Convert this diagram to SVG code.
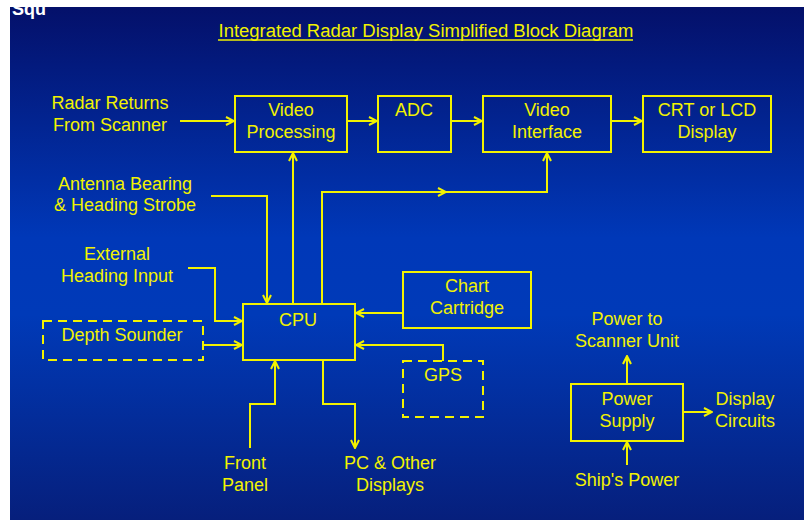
<svg xmlns="http://www.w3.org/2000/svg" width="804" height="520" viewBox="0 0 804 520">
<style>
.t{font-family:"Liberation Sans",Arial,sans-serif;font-size:18px;fill:#f2f200;text-anchor:middle}
.box{fill:none;stroke:#f2f200;stroke-width:2}
.dash{fill:none;stroke:#f2f200;stroke-width:2;stroke-dasharray:9,6}
.c{fill:none;stroke:#f2f200;stroke-width:2;marker-end:url(#ah)}
</style>
<defs>
<linearGradient id="bg" x1="0" y1="0" x2="0" y2="1">
<stop offset="0" stop-color="#04106a"/>
<stop offset="0.45" stop-color="#0038b8"/>
<stop offset="0.6" stop-color="#003ab8"/>
<stop offset="1" stop-color="#061f7c"/>
</linearGradient>
<marker id="ah" viewBox="0 0 10 10" refX="9" refY="5" markerWidth="10" markerHeight="10" markerUnits="userSpaceOnUse" orient="auto">
<path d="M1,1 L9,5 L1,9" fill="none" stroke="#f2f200" stroke-width="2"/>
</marker>
</defs>
<rect x="0" y="0" width="804" height="520" fill="#ffffff"/>
<rect x="10" y="7" width="794" height="513" fill="url(#bg)"/>
<text x="12" y="15" style="font-family:'Liberation Sans',Arial,sans-serif;font-size:18px;font-weight:bold;fill:#ffffff">Squ</text>
<rect x="0" y="0" width="804" height="7" fill="#ffffff"/>
<rect x="0" y="0" width="10" height="520" fill="#ffffff"/>

<g id="title">
<text class="t" x="426" y="37" textLength="415" lengthAdjust="spacingAndGlyphs">Integrated Radar Display Simplified Block Diagram</text>
<line x1="218" y1="40" x2="633" y2="40" stroke="#f2f200" stroke-width="1.5"/>
</g>

<g id="connectors">
<path class="c" d="M180,121 H234"/>
<path class="c" d="M347,121 H377"/>
<path class="c" d="M451,121 H482"/>
<path class="c" d="M611,121 H642"/>
<path class="c" d="M293,304 V153"/>
<path class="c" d="M322,304 V192 H446"/>
<path class="c" d="M440,192 H547 V153"/>
<path class="c" d="M211,196 H267 V303"/>
<path class="c" d="M188,268 H215 V321 H242"/>
<path class="c" d="M203,345 H242"/>
<path class="c" d="M403,313 H356"/>
<path class="c" d="M443,361 V345 H356"/>
<path class="c" d="M250,448 V404 H275 V361"/>
<path class="c" d="M323,360 V404 H355 V448"/>
<path class="c" d="M627,384 V356"/>
<path class="c" d="M683,412 H712"/>
<path class="c" d="M627,465 V442"/>
</g>

<g id="radar-returns">
<text class="t" x="110" y="109">Radar Returns</text>
<text class="t" x="110" y="131">From Scanner</text>
</g>
<g id="video-processing">
<rect class="box" x="235" y="96" width="112" height="56"/>
<text class="t" x="291" y="116">Video</text>
<text class="t" x="291" y="138">Processing</text>
</g>
<g id="adc">
<rect class="box" x="378" y="96" width="73" height="56"/>
<text class="t" x="414" y="116">ADC</text>
</g>
<g id="video-interface">
<rect class="box" x="483" y="96" width="128" height="56"/>
<text class="t" x="547" y="116">Video</text>
<text class="t" x="547" y="138">Interface</text>
</g>
<g id="crt-display">
<rect class="box" x="643" y="96" width="128" height="56"/>
<text class="t" x="707" y="116">CRT or LCD</text>
<text class="t" x="707" y="138">Display</text>
</g>
<g id="antenna-bearing">
<text class="t" x="125" y="190">Antenna Bearing</text>
<text class="t" x="125" y="211">&amp; Heading Strobe</text>
</g>
<g id="external-heading">
<text class="t" x="117" y="260">External</text>
<text class="t" x="117" y="282">Heading Input</text>
</g>
<g id="depth-sounder">
<rect class="dash" x="43" y="321" width="160" height="39"/>
<text class="t" x="122" y="341">Depth Sounder</text>
</g>
<g id="cpu">
<rect class="box" x="243" y="304" width="112" height="56"/>
<text class="t" x="298" y="326">CPU</text>
</g>
<g id="chart-cartridge">
<rect class="box" x="403" y="272" width="128" height="56"/>
<text class="t" x="467" y="292">Chart</text>
<text class="t" x="467" y="314">Cartridge</text>
</g>
<g id="gps">
<rect class="dash" x="403" y="361" width="80" height="56"/>
<text class="t" x="443" y="381">GPS</text>
</g>
<g id="front-panel">
<text class="t" x="245" y="469">Front</text>
<text class="t" x="245" y="491">Panel</text>
</g>
<g id="pc-displays">
<text class="t" x="390" y="469">PC &amp; Other</text>
<text class="t" x="390" y="491">Displays</text>
</g>
<g id="power-scanner">
<text class="t" x="627" y="325">Power to</text>
<text class="t" x="627" y="347">Scanner Unit</text>
</g>
<g id="power-supply">
<rect class="box" x="571" y="384" width="112" height="57"/>
<text class="t" x="627" y="405">Power</text>
<text class="t" x="627" y="427">Supply</text>
</g>
<g id="display-circuits">
<text class="t" x="745" y="405">Display</text>
<text class="t" x="745" y="427">Circuits</text>
</g>
<g id="ships-power">
<text class="t" x="627" y="486">Ship's Power</text>
</g>
</svg>
